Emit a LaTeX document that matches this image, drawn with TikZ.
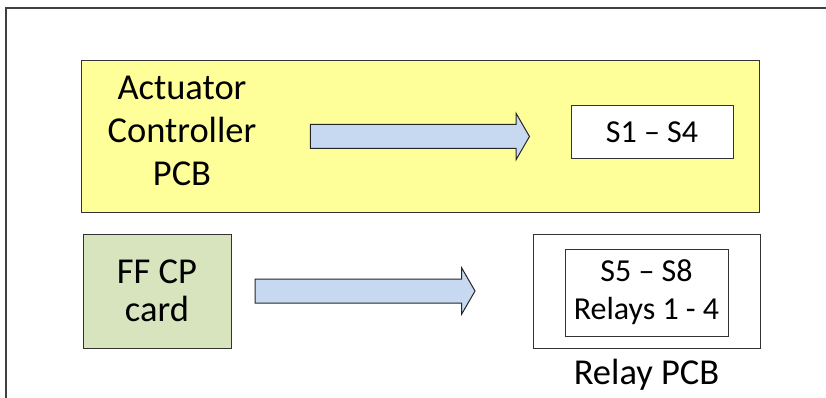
\documentclass[tikz,border=0pt]{standalone}
\usepackage{fontspec}
\setmainfont{Carlito}
\usetikzlibrary{positioning,shapes.arrows}

\definecolor{boardyellow}{HTML}{FFFF99}
\definecolor{cardgreen}{HTML}{D7E4BD}
\definecolor{flowblue}{HTML}{C6D9F1}

\begin{document}
\begin{tikzpicture}
    [x=1pt, y=-1pt,
     every node/.style={draw=black!80, line width=1pt, align=center, inner sep=0pt},
     big/.style={font=\fontsize{36.5}{43}\selectfont},
     small/.style={font=\fontsize{32}{38}\selectfont},
     flow/.style={single arrow, fill=flowblue, draw=black!85, line width=1pt,
                  inner xsep=0pt, inner ysep=11.5pt, single arrow head extend=11pt,
                  single arrow head indent=0pt, single arrow tip angle=120},
    ]
    \useasboundingbox (0,0) rectangle (826,398);
    \draw [black!75, line width=1.3pt] (6,410) -- (6,8) -- (840,8);

    \node (actuator) [fill=boardyellow, minimum width=678pt, minimum height=151pt]
        at (420,136.5) {};
    \node (actuatortext) [draw=none, big] at (182,131) {
        Actuator\\
        Controller\\
        PCB
    };
    \node (s1s4) [fill=white, small, minimum width=162pt, minimum height=53pt]
        at (652,132.5) {S1 -- S4};

    \node (ffcp) [fill=cardgreen, font=\fontsize{36.5}{38}\selectfont,
        minimum width=148pt, minimum height=114pt] at (157,291) {
        FF CP\\
        card
    };

    \node (relay) [minimum width=227pt, minimum height=114pt] at (646.5,291) {};
    \node (s5s8) [small, minimum width=163pt, minimum height=87pt] at (646.5,292.5) {
        S5 -- S8\\
        Relays 1 - 4
    };
    \node (relaylabel) [draw=none, big, below=10pt of relay] {Relay PCB};

    \node (flowA) [flow, minimum height=219pt] at (416.5,136.5) {};
    \node (flowB) [flow, minimum height=220pt, right=23pt of ffcp] {};

\end{tikzpicture}
\end{document}
